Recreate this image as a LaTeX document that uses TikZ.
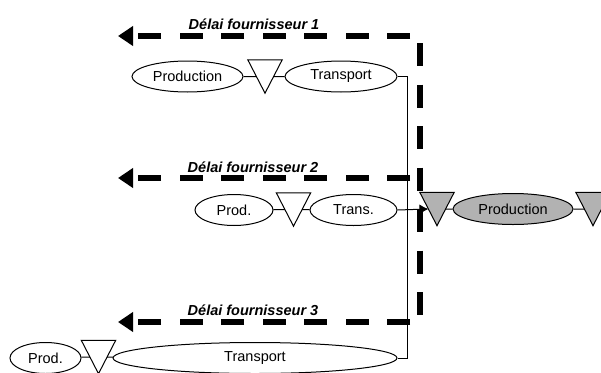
\documentclass[tikz,border=0pt]{standalone}
\usepackage{fontspec}
\setmainfont{Liberation Sans}
\usetikzlibrary{arrows.meta,calc}
\usetikzlibrary{shapes.geometric}
\definecolor{stockgrey}{HTML}{B2B2B2}

\begin{document}
\begin{tikzpicture}[
  x=1pt, y=-1pt,
  font=\fontsize{14.5}{17}\selectfont,
  stage/.style={
    draw,
    ellipse,
    line width=1pt,
    inner sep=0pt,
    minimum height=31pt,
    minimum width=#1
  },
  stock/.style={
    inner sep=0pt,
    minimum width=34pt,
    minimum height=33pt
  },
  link/.style={line width=1pt},
  delay/.style={line width=5.5pt, dash pattern=on 23pt off 18.5pt, dash phase=#1},
  delay/.default=31.5pt,
  delaylabel/.style={font=\fontsize{14.5}{17}\selectfont\bfseries\itshape}
]
  \useasboundingbox (0,0) rectangle (601,372);

  % --- SUPPLIER 1 ---
  \node[stage=111pt] (prod1) at (187.5,76.5) {Production};
  \node[stock] (stock1) at (265,76.5) {};
  \node[stage=112pt] (trans1) at (341,76.5) {Transport};

  % --- SUPPLIER 2 ---
  \node[stage=78pt] (prod2) at (234,210) {Prod.};
  \node[stock] (stock2) at (293.5,209.5) {};
  \node[stage=87pt] (trans2) at (353.5,210) {Trans.};

  % --- SUPPLIER 3 ---
  \node[stage=71pt] (prod3) at (45.5,358) {Prod.};
  \node[stock] (stock3) at (98.5,357) {};
  \node[stage=284pt] (trans3) at (255,358) {Transport};

  % --- CLIENT (grey) ---
  \node[stock] (cstockin) at (437,209) {};
  \node[stage=120pt, fill=stockgrey] (cprod) at (513,209) {Production};
  \node[stock] (cstockout) at (593,209) {};

  % Stock triangles
  \foreach \s in {stock1,stock2,stock3}
    \draw[link] (\s.north west) -- (\s.north east) -- (\s.south) -- cycle;
  \foreach \s in {cstockin,cstockout}
    \draw[link, fill=stockgrey] (\s.north west) -- (\s.north east) -- (\s.south) -- cycle;

  % Flow links
  \foreach \p/\s/\t in {prod1/stock1/trans1, prod2/stock2/trans2, prod3/stock3/trans3}
    \draw[link] (\p) -- ($(\s.north west)!.5!(\s.south)$)
                ($(\s.north east)!.5!(\s.south)$) -- (\t);
  \draw[link] ($(cstockin.north east)!.5!(cstockin.south)$) -- (cprod)
              -- ($(cstockout.north west)!.5!(cstockout.south)$);
  \draw[link] (trans1.east) -| ($(trans3.east)+(10,0)$) -- (trans3.east);
  \draw[link, -{Latex[length=9pt,width=10pt]}] (trans2.east)
    -- ($(cstockin.north west)!.5!(cstockin.south)$);

  % --- DELAYS ---
  \coordinate (d1) at (420,36);
  \coordinate (d2) at (420,178);
  \coordinate (d3) at (420,322);
  \coordinate (e1) at (118,36);
  \coordinate (e2) at (118,178);
  \coordinate (e3) at (118,322);

  \draw[delay=34.5pt] (d1) -- (d3);
  \draw[delay, -{Triangle[length=15pt,width=19pt]}] (d1) -- (e1);
  \draw[delay, -{Triangle[length=15pt,width=19pt]}] (d2) -- (e2);
  \draw[delay, -{Triangle[length=15pt,width=19pt]}] (d3) -- (e3);

  \node[delaylabel] (lab1) at (254,24) {Délai fournisseur 1};
  \node[delaylabel] (lab2) at (253,167) {Délai fournisseur 2};
  \node[delaylabel] (lab3) at (253,310) {Délai fournisseur 3};

\end{tikzpicture}
\end{document}
